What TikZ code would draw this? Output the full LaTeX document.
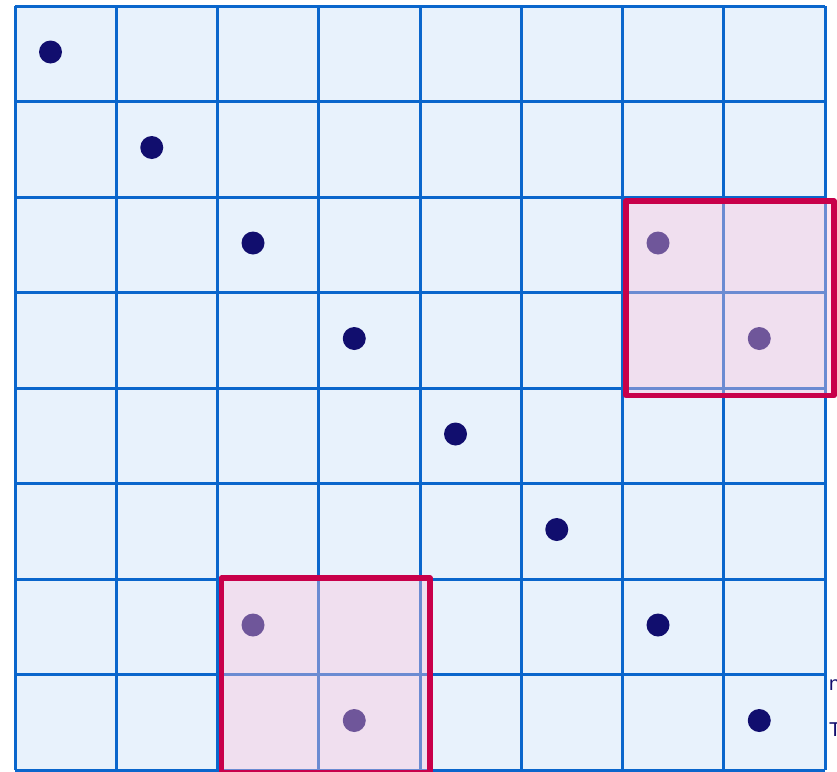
\documentclass[tikz,border=0pt]{standalone}
\usepackage{fontspec}
\setmainfont{Liberation Sans}
\definecolor{cellfill}{RGB}{232,242,252}
\definecolor{gridblue}{RGB}{10,102,204}
\definecolor{dotnavy}{RGB}{17,14,110}
\definecolor{boxred}{RGB}{200,0,74}
\definecolor{boxpink}{RGB}{253,196,220}
\begin{document}
\begin{tikzpicture}[x=1pt,y=-1pt,
  gridline/.style={draw=gridblue,line width=3pt},
  dotmark/.style={circle,fill=dotnavy,inner sep=0pt,minimum size=23pt},
  hlbox/.style={draw=boxred,line width=5.5pt,fill=boxpink,fill opacity=0.4,draw opacity=1,line join=round},
  sidelabel/.style={text=dotnavy,font=\fontsize{20}{24}\selectfont,anchor=base west,inner sep=0pt}]
\useasboundingbox (0,0) rectangle (837,771);
\fill[white] (0,0) rectangle (837,771);
% cells
\fill[cellfill] (15,6) rectangle (825,770);
\foreach \i in {0,...,8} {
  \draw[gridline] ({15+101.25*\i},6) -- ({15+101.25*\i},770);
  \draw[gridline] (15,{6+95.5*\i}) -- (825,{6+95.5*\i});
}
% dots on the diagonal
\foreach \k in {0,...,7} {
  \node[dotmark] (d\k) at ({50.5+101.25*\k},{52+95.5*\k}) {};
}
% extra dots inside the highlighted blocks
\node[dotmark] (e1) at ({50.5+101.25*6},{52+95.5*2}) {};
\node[dotmark] (e2) at ({50.5+101.25*7},{52+95.5*3}) {};
\node[dotmark] (e3) at ({50.5+101.25*2},{52+95.5*6}) {};
\node[dotmark] (e4) at ({50.5+101.25*3},{52+95.5*7}) {};
% highlight boxes
\draw[hlbox] (626,201) rectangle (834,395.5);
\node[inner sep=0pt] (boxA) at (730,298.25) {};
\draw[hlbox] (221.5,578) rectangle (430,773);
\node[inner sep=0pt] (boxB) at (325.75,675.5) {};
% cut-off labels at the right edge
\node[sidelabel] (lbln) at (829,690) {n};
\node[sidelabel] (lblT) at (829,736) {T};
\end{tikzpicture}
\end{document}
